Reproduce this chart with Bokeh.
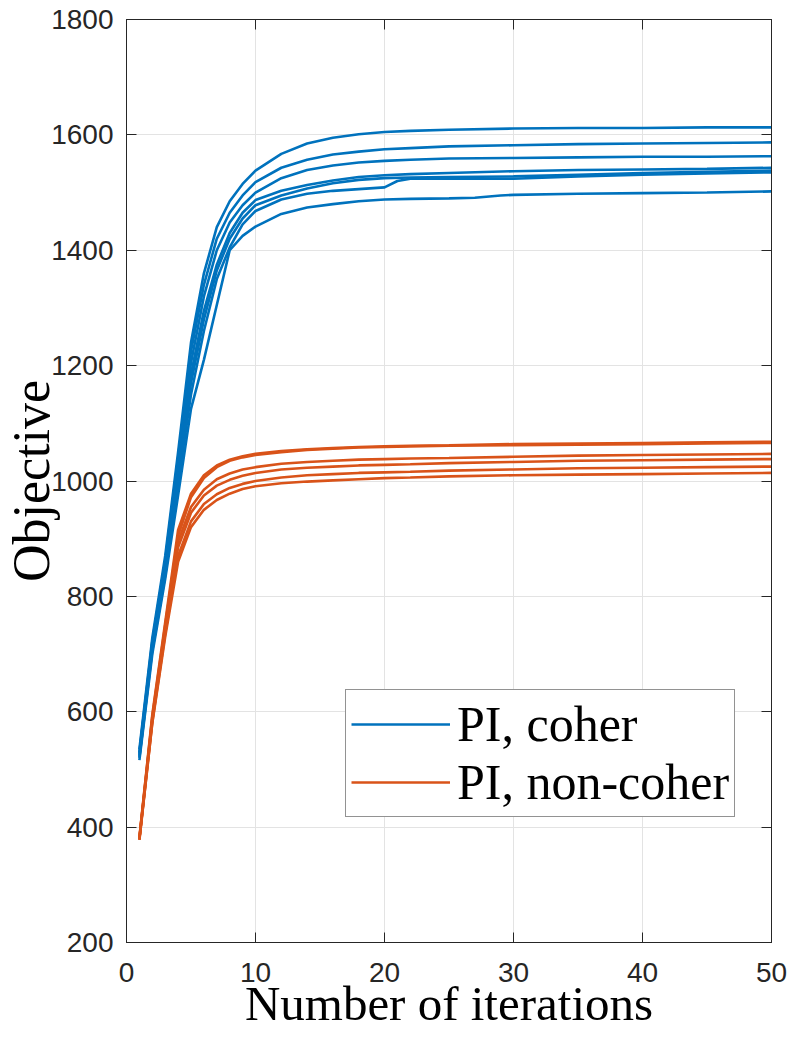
from bokeh.plotting import figure
from bokeh.models import LinearAxis, Range1d, FixedTicker, Legend, LegendItem
from bokeh.embed import file_html
from bokeh.resources import INLINE

# ---- data ----
ITERS = [1, 2, 3, 4, 5, 6, 7, 8, 9, 10, 12, 14, 16, 18, 20, 22, 25, 30, 35, 40, 45, 50]

coher_1 = [535, 728, 870, 1050, 1240, 1360, 1440, 1485, 1515, 1538, 1567, 1585, 1595, 1601, 1605, 1607, 1609, 1611, 1612, 1612, 1613, 1613]
coher_2 = [530, 722, 862, 1040, 1225, 1340, 1420, 1465, 1495, 1518, 1543, 1557, 1566, 1571, 1575, 1577, 1580, 1582, 1584, 1585, 1586, 1587]
coher_3 = [528, 718, 855, 1030, 1205, 1320, 1400, 1448, 1478, 1500, 1525, 1539, 1547, 1552, 1555, 1557, 1559, 1560, 1561, 1562, 1562, 1563]
coher_4 = [525, 714, 848, 1015, 1185, 1295, 1375, 1430, 1465, 1487, 1503, 1513, 1521, 1527, 1530, 1532, 1534, 1537, 1539, 1540, 1541, 1543]
coher_5 = [522, 710, 842, 1005, 1170, 1280, 1365, 1420, 1455, 1478, 1495, 1507, 1516, 1522, 1525, 1526, 1527, 1528, 1531, 1534, 1536, 1538]
ITERS_6 = [1, 2, 3, 4, 5, 6, 7, 8, 9, 10, 12, 14, 16, 18, 20, 21, 22, 25, 30, 35, 40, 45, 50]
coher_6 = [520, 706, 836, 995, 1150, 1260, 1350, 1405, 1445, 1468, 1488, 1498, 1503, 1506, 1509, 1520, 1524, 1524, 1524, 1528, 1531, 1533, 1535]
ITERS_7 = [1, 2, 3, 4, 5, 6, 7, 8, 9, 10, 12, 14, 16, 18, 20, 22, 25, 27, 29, 30, 35, 40, 45, 50]
coher_7 = [516, 700, 830, 975, 1125, 1210, 1305, 1400, 1425, 1441, 1463, 1474, 1480, 1485, 1488, 1489, 1490, 1491, 1495, 1496, 1498, 1499, 1500, 1502]

noncoher_1 = [382, 595, 755, 915, 978, 1010, 1027, 1037, 1043, 1047, 1052, 1055, 1057, 1059, 1060, 1061, 1062, 1064, 1065, 1066, 1067, 1068]
noncoher_2 = [380, 592, 750, 905, 972, 1005, 1024, 1035, 1041, 1045, 1050, 1054, 1056, 1058, 1059, 1060, 1061, 1062, 1063, 1064, 1065, 1066]
noncoher_3 = [380, 588, 745, 895, 955, 985, 1003, 1013, 1020, 1024, 1030, 1033, 1035, 1037, 1038, 1039, 1040, 1042, 1044, 1045, 1046, 1047]
noncoher_4 = [380, 585, 740, 885, 945, 975, 992, 1002, 1009, 1014, 1020, 1023, 1025, 1027, 1028, 1029, 1031, 1033, 1035, 1036, 1037, 1038]
noncoher_5 = [378, 582, 735, 870, 930, 960, 977, 988, 995, 1000, 1006, 1010, 1012, 1014, 1015, 1016, 1018, 1020, 1022, 1023, 1024, 1025]
noncoher_6 = [378, 580, 730, 860, 920, 950, 967, 978, 986, 991, 996, 999, 1001, 1003, 1005, 1006, 1008, 1010, 1011, 1012, 1013, 1014]

X_TICKS = [0, 10, 20, 30, 40, 50]
Y_TICKS = [200, 400, 600, 800, 1000, 1200, 1400, 1600, 1800]
SERIES_NAMES = ["PI, coher", "PI, non-coher"]

BLUE = "#0072BD"
ORANGE = "#D95319"
AXC = "#262626"

p = figure(frame_width=645, frame_height=923, output_backend="svg",
           toolbar_location=None, x_range=Range1d(0, 50), y_range=Range1d(200, 1800),
           min_border_left=110, min_border_right=17, min_border_top=19, min_border_bottom=99,
           x_axis_label="Number of iterations", y_axis_label="Objective")
p.outline_line_color = AXC
p.outline_line_width = 1
p.background_fill_color = "white"
p.border_fill_color = "white"

for ax in (p.xaxis[0], p.yaxis[0]):
    ax.major_tick_in = 10
    ax.major_tick_out = 0
    ax.minor_tick_in = 0
    ax.minor_tick_out = 0
    ax.axis_line_color = AXC
    ax.major_tick_line_color = AXC
    ax.major_label_text_font = "Liberation Sans"
    ax.major_label_text_font_size = "28px"
    ax.major_label_text_color = AXC
    ax.axis_label_text_font = "Liberation Serif"
    ax.axis_label_text_font_style = "normal"
    ax.axis_label_text_color = "black"
p.xaxis.axis_label_text_font_size = "49px"
p.yaxis.axis_label_text_font_size = "52px"
p.xaxis.ticker = FixedTicker(ticks=X_TICKS)
p.yaxis.ticker = FixedTicker(ticks=Y_TICKS)
p.xaxis.major_label_standoff = 20
p.yaxis.major_label_standoff = 13
p.xaxis.axis_label_standoff = -9
p.yaxis.axis_label_standoff = -12

for loc, tk in (("right", Y_TICKS), ("above", X_TICKS)):
    a = LinearAxis(ticker=FixedTicker(ticks=tk), major_tick_in=10, major_tick_out=0,
                   minor_tick_in=0, minor_tick_out=0,
                   major_label_overrides={t: "" for t in tk},
                   major_label_standoff=0, axis_line_color=AXC, major_tick_line_color=AXC)
    p.add_layout(a, loc)

p.xgrid.ticker = FixedTicker(ticks=X_TICKS)
p.ygrid.ticker = FixedTicker(ticks=Y_TICKS)
p.grid.grid_line_color = "#e3e3e3"
p.grid.grid_line_width = 1

LW = 2.6
blue_rs = []
for xs, ys in ((ITERS, coher_1), (ITERS, coher_2), (ITERS, coher_3), (ITERS, coher_4),
               (ITERS, coher_5), (ITERS_6, coher_6), (ITERS_7, coher_7)):
    blue_rs.append(p.line(xs, ys, line_color=BLUE, line_width=LW))
orange_rs = []
for ys in (noncoher_1, noncoher_2, noncoher_3, noncoher_4, noncoher_5, noncoher_6):
    orange_rs.append(p.line(ITERS, ys, line_color=ORANGE, line_width=LW))

legend = Legend(items=[LegendItem(label=SERIES_NAMES[0], renderers=[blue_rs[0]]),
                       LegendItem(label=SERIES_NAMES[1], renderers=[orange_rs[0]])],
                location=(219, 125), orientation="vertical")
legend.label_text_font = "Liberation Serif"
legend.label_text_font_size = "50px"
legend.label_text_color = "black"
legend.glyph_width = 99
legend.glyph_height = 40
legend.label_height = 40
legend.label_standoff = 7
legend.spacing = 0
legend.padding = 5
legend.margin = 0
legend.border_line_color = AXC
legend.border_line_width = 1
legend.background_fill_color = "white"
legend.background_fill_alpha = 1
p.add_layout(legend, "center")

open("out.html", "w").write(file_html(p, INLINE))
